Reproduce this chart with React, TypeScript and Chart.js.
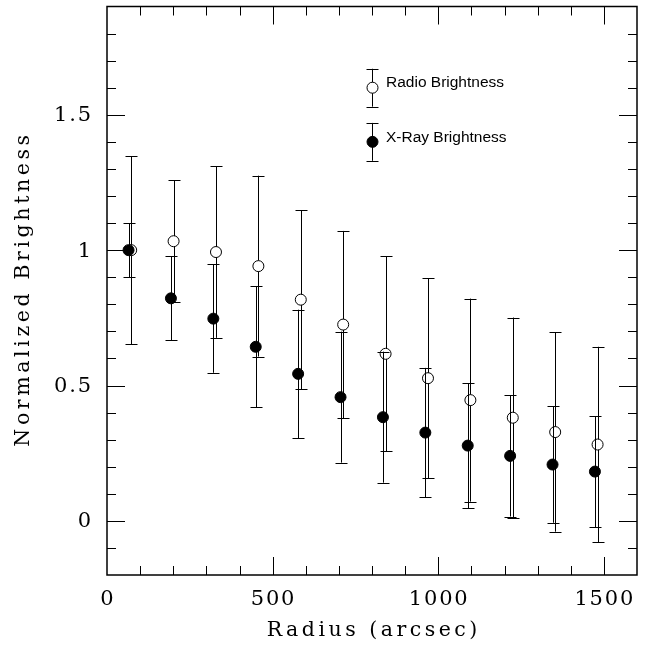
import React, { useEffect, useRef } from "react";
import { Chart, registerables } from "chart.js";

Chart.register(...registerables);

// ---- data ----
const xrayRadius = [65, 193, 321, 449, 577, 705, 833, 961, 1089, 1217, 1345, 1473];
const radioRadius = [73, 201, 329, 457, 585, 713, 841, 969, 1097, 1225, 1353, 1481];
const xrayBrightness = [1.0, 0.822, 0.747, 0.643, 0.543, 0.457, 0.383, 0.326, 0.278, 0.24, 0.208, 0.182];
const xrayError = [0.1, 0.155, 0.2, 0.223, 0.237, 0.242, 0.242, 0.239, 0.231, 0.224, 0.215, 0.205];
const radioBrightness = [1.0, 1.033, 0.993, 0.941, 0.817, 0.725, 0.617, 0.527, 0.446, 0.381, 0.328, 0.282];
const radioError = [0.347, 0.226, 0.317, 0.334, 0.331, 0.346, 0.36, 0.37, 0.375, 0.37, 0.368, 0.361];
const seriesNames = ["Radio Brightness", "X-Ray Brightness"];
const legendRadius = 800;
const legendBrightness = [1.6, 1.4];
const legendError = 0.07;
const xRange = [0, 1600];
const yRange = [-0.2, 1.9];
const xTickValues = [0, 500, 1000, 1500];
const xTickLabels = ["0", "500", "1000", "1500"];
const yTickValues = [0, 0.5, 1, 1.5];
const yTickLabels = ["0", "0.5", "1", "1.5"];
const xMinorStep = 100;
const yMinorStep = 0.1;
const xTitle = "Radius (arcsec)";
const yTitle = "Normalized Brightness";

const SERIF = "'DejaVu Serif', serif";
const SANS = "'Liberation Sans', Arial, sans-serif";

function spacedText(ctx: CanvasRenderingContext2D, text: string, x: number, y: number, align: "left" | "center" | "right", spacing: number) {
  ctx.save();
  (ctx as any).letterSpacing = "0px";
  const w0 = ctx.measureText(text).width;
  const w = w0 + spacing * (text.length - 1);
  let sx = x;
  if (align === "center") sx = x - w / 2;
  else if (align === "right") sx = x - w;
  (ctx as any).letterSpacing = spacing + "px";
  ctx.textAlign = "left";
  ctx.fillText(text, sx, y);
  ctx.restore();
}

function drawErrorBar(ctx: CanvasRenderingContext2D, px: number, yTop: number, yBot: number) {
  const cap = 6;
  const x = Math.round(px) + 0.5;
  ctx.beginPath();
  ctx.moveTo(x, yTop);
  ctx.lineTo(x, yBot);
  ctx.moveTo(x - cap, Math.round(yTop) + 0.5);
  ctx.lineTo(x + cap, Math.round(yTop) + 0.5);
  ctx.moveTo(x - cap, Math.round(yBot) + 0.5);
  ctx.lineTo(x + cap, Math.round(yBot) + 0.5);
  ctx.stroke();
}

const framePlugin = {
  id: "framePlugin",
  beforeDatasetDraw(chart: any, args: any) {
    const ds = chart.data.datasets[args.index];
    const xs = chart.scales.x;
    const ys = chart.scales.y;
    const ctx: CanvasRenderingContext2D = chart.ctx;
    ctx.save();
    ctx.strokeStyle = "#000";
    ctx.lineWidth = 1;
    ds.data.forEach((p: any, i: number) => {
      const e = ds.errors[i];
      drawErrorBar(ctx, xs.getPixelForValue(p.x), ys.getPixelForValue(p.y + e), ys.getPixelForValue(p.y - e));
    });
    ctx.restore();
  },
  afterDraw(chart: any) {
    const ctx: CanvasRenderingContext2D = chart.ctx;
    const xs = chart.scales.x;
    const ys = chart.scales.y;
    const a = chart.chartArea;
    ctx.save();
    ctx.strokeStyle = "#000";
    // frame
    ctx.lineWidth = 1.5;
    ctx.strokeRect(a.left, a.top, a.right - a.left, a.bottom - a.top);
    // ticks
    ctx.lineWidth = 1;
    ctx.beginPath();
    const nx = Math.round((xRange[1] - xRange[0]) / xMinorStep);
    for (let i = 1; i < nx; i++) {
      const v = xRange[0] + i * xMinorStep;
      const major = xTickValues.some((t) => Math.abs(t - v) < 1e-6);
      const len = major ? 18 : 9;
      const px = Math.round(xs.getPixelForValue(v)) + 0.5;
      ctx.moveTo(px, a.bottom);
      ctx.lineTo(px, a.bottom - len);
      ctx.moveTo(px, a.top);
      ctx.lineTo(px, a.top + len);
    }
    const ny = Math.round((yRange[1] - yRange[0]) / yMinorStep);
    for (let i = 1; i < ny; i++) {
      const v = yRange[0] + i * yMinorStep;
      const major = yTickValues.some((t) => Math.abs(t - v) < 1e-6);
      const len = major ? 18 : 9;
      const py = Math.round(ys.getPixelForValue(v)) + 0.5;
      ctx.moveTo(a.left, py);
      ctx.lineTo(a.left + len, py);
      ctx.moveTo(a.right, py);
      ctx.lineTo(a.right - len, py);
    }
    ctx.stroke();

    // tick labels
    ctx.fillStyle = "#000";
    ctx.font = "21px " + SERIF;
    ctx.textBaseline = "middle";
    xTickValues.forEach((v, i) => {
      spacedText(ctx, xTickLabels[i], xs.getPixelForValue(v), a.bottom + 25, "center", 1.8);
    });
    yTickValues.forEach((v, i) => {
      spacedText(ctx, yTickLabels[i], a.left - 16, ys.getPixelForValue(v) + 1, "right", 1.8);
    });

    // axis titles
    ctx.font = "20.5px " + SERIF;
    ctx.textBaseline = "alphabetic";
    spacedText(ctx, xTitle, (a.left + a.right) / 2, a.bottom + 61, "center", 3.5);
    ctx.save();
    ctx.translate(29, (a.top + a.bottom) / 2);
    ctx.rotate(-Math.PI / 2);
    spacedText(ctx, yTitle, 0, 0, "center", 3.6);
    ctx.restore();

    // legend
    const lx = xs.getPixelForValue(legendRadius);
    legendBrightness.forEach((v, i) => {
      const py = ys.getPixelForValue(v);
      drawErrorBar(ctx, lx, ys.getPixelForValue(v + legendError), ys.getPixelForValue(v - legendError));
      ctx.beginPath();
      ctx.arc(Math.round(lx) + 0.5, py, 5.5, 0, Math.PI * 2);
      ctx.fillStyle = i === 0 ? "#fff" : "#000";
      ctx.fill();
      ctx.stroke();
      ctx.fillStyle = "#000";
      ctx.font = "15.5px " + SANS;
      ctx.textBaseline = "middle";
      ctx.textAlign = "left";
      ctx.fillText(seriesNames[i], lx + 14, py - 4.5);
    });
    ctx.restore();
  },
};

export default function App() {
  const ref = useRef<HTMLCanvasElement | null>(null);
  useEffect(() => {
    if (!ref.current) return;
    const chart = new Chart(ref.current, {
      type: "scatter",
      data: {
        datasets: [
          {
            label: seriesNames[1],
            data: xrayRadius.map((x, i) => ({ x, y: xrayBrightness[i] })),
            errors: xrayError,
            pointRadius: 5.5,
            pointBackgroundColor: "#000",
            pointBorderColor: "#000",
            pointBorderWidth: 1,
            showLine: false,
          } as any,
          {
            label: seriesNames[0],
            data: radioRadius.map((x, i) => ({ x, y: radioBrightness[i] })),
            errors: radioError,
            pointRadius: 5.5,
            pointBackgroundColor: "#fff",
            pointBorderColor: "#000",
            pointBorderWidth: 1,
            showLine: false,
          } as any,
        ],
      },
      options: {
        animation: false,
        responsive: false,
        events: [],
        layout: { padding: { left: 107, right: 13, top: 5, bottom: 75 } },
        plugins: { legend: { display: false }, tooltip: { enabled: false }, title: { display: false } },
        scales: {
          x: { type: "linear", min: xRange[0], max: xRange[1], display: false },
          y: { type: "linear", min: yRange[0], max: yRange[1], display: false },
        },
      },
      plugins: [framePlugin],
    });
    return () => chart.destroy();
  }, []);
  return (
    <div style={{ position: "fixed", left: 0, top: 0, width: 650, height: 650, background: "#fff" }}>
      <canvas ref={ref} width={650} height={650} style={{ display: "block" }} />
    </div>
  );
}
